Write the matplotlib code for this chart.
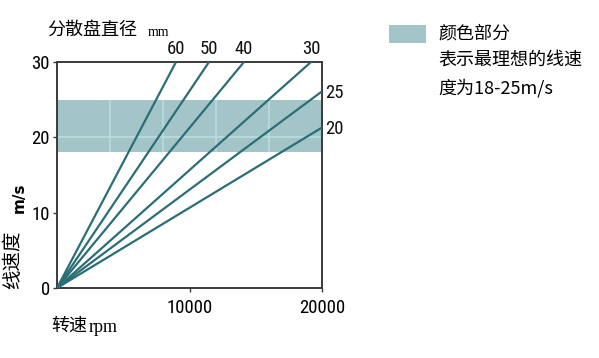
import matplotlib
matplotlib.use("Agg")
import matplotlib.pyplot as plt
from matplotlib import font_manager
from matplotlib.patches import Rectangle

# disc diameter (mm) and where each line ends (rpm, m/s)
diameters = [60, 50, 40, 30, 25, 20]
end_rpm = [8980, 11470, 14110, 19170, 20000, 20000]
end_speed = [30, 30, 30, 30, 26.1, 21.3]

band_low, band_high = 18, 25
x_ticks = [10000, 20000]
y_ticks = [0, 10, 20, 30]
band_grid_x = [4000, 8000, 12000, 16000]
band_grid_y = [20]


def narrow_font(size):
    # look for any condensed / narrow sans face among the installed files
    files = [f.fname for f in font_manager.fontManager.ttflist]
    for key in ["LiberationSansNarrow-Regular", "RobotoCondensed-Regular",
                "Roboto_Condensed-Regular", "DejaVuSansCondensed."]:
        for fn in files:
            if key in fn.replace(" ", ""):
                return font_manager.FontProperties(fname=fn, size=size)
    return font_manager.FontProperties(family="DejaVu Sans", stretch="condensed", size=size)


tick_fp = narrow_font(13.5)
cjk = ["Noto Sans CJK SC", "DejaVu Sans"]
names = {f.name for f in font_manager.fontManager.ttflist}
serif = "Liberation Serif" if "Liberation Serif" in names else "DejaVu Serif"

line_col = "#2b6e77"
band_col = "#a4c5c7"
grid_col = "#b9dcdc"
spine_col = "#3a3a3a"

fig = plt.figure(figsize=(5.99, 3.58), dpi=100)
ax = fig.add_axes([57 / 599, 70 / 358, 265 / 599, 226 / 358])

ax.axhspan(band_low, band_high, color=band_col, lw=0, zorder=1)
ax.vlines(band_grid_x, band_low, band_high, color=grid_col, lw=1.2, zorder=2)
ax.hlines(band_grid_y, 0, 20000, color=grid_col, lw=1.2, zorder=2)

for d, xr, ys in zip(diameters, end_rpm, end_speed):
    ax.plot([0, xr], [0, ys], color=line_col, lw=1.6, zorder=3, solid_capstyle="butt")
    if ys >= 30:
        ax.text(xr, 30.5, str(d), ha="center", va="bottom", fontproperties=tick_fp,
                color="#111111")
    else:
        ax.text(20250, ys - 0.2, str(d), ha="left", va="center", fontproperties=tick_fp,
                color="#111111", clip_on=False)

ax.set_xlim(0, 20000)
ax.set_ylim(0, 30)
ax.set_xticks(x_ticks)
ax.set_yticks(y_ticks)
ax.set_xticklabels([str(v) for v in x_ticks], fontproperties=tick_fp)
ax.set_yticklabels([str(v) for v in y_ticks], fontproperties=tick_fp)
ax.tick_params(direction="out", length=3, width=1, color=spine_col, pad=2)
ax.tick_params(axis="x", pad=5)
for s in ax.spines.values():
    s.set_color(spine_col)
    s.set_linewidth(1.4)

# titles and axis names
fig.text(47 / 599, 1 - 30 / 358, "分散盘直径", family=cjk, fontsize=13, va="center", ha="left")
fig.text(148 / 599, 1 - 36 / 358, "mm", family=serif, fontsize=10, va="baseline", ha="left")
fig.text(51 / 599, 1 - 326 / 358, "转速", family=cjk, fontsize=13, va="center", ha="left")
fig.text(89 / 599, 1 - 332 / 358, "rpm", family=serif, fontsize=13, va="baseline", ha="left")
fig.text(13 / 599, 1 - 260 / 358, "线速度", family=cjk, fontsize=14, rotation=90,
         va="center", ha="center")
fig.text(19 / 599, 1 - 198 / 358, "m/s", family="DejaVu Sans", fontweight="bold",
         fontsize=11, rotation=90, va="center", ha="center")

# legend box
fig.patches.append(Rectangle((389 / 599, 1 - 43 / 358), 37 / 599, 18 / 358,
                             transform=fig.transFigure, color=band_col, lw=0))
fig.text(438 / 599, 1 - 34 / 358, "颜色部分", family=cjk, fontsize=13, va="center")
fig.text(438 / 599, 1 - 60 / 358, "表示最理想的线速", family=cjk, fontsize=13, va="center")
fig.text(438 / 599, 1 - 88 / 358, "度为18-25m/s", family=cjk, fontsize=13, va="center")

fig.savefig("out.png", dpi=100)
